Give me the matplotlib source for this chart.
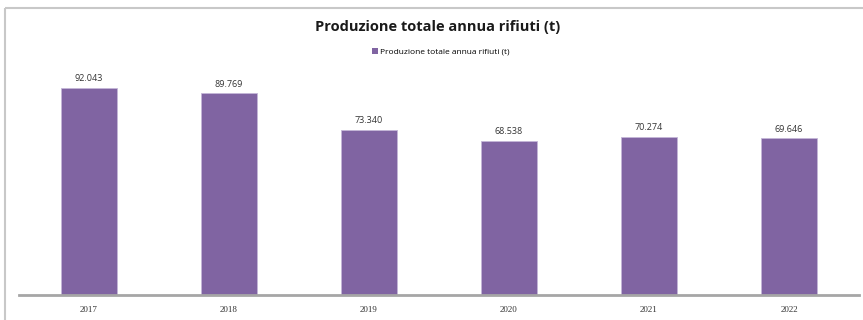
import matplotlib
matplotlib.use("Agg")
import matplotlib.pyplot as plt
from matplotlib.lines import Line2D
from matplotlib.patches import Patch

years = ["2017", "2018", "2019", "2020", "2021", "2022"]
values = [92.043, 89.769, 73.340, 68.538, 70.274, 69.646]
value_labels = ["92.043", "89.769", "73.340", "68.538", "70.274", "69.646"]
title = "Produzione totale annua rifiuti (t)"
series_name = "Produzione totale annua rifiuti (t)"

W, H = 863, 320
fig = plt.figure(figsize=(W / 100, H / 100), dpi=100)
fig.patch.set_facecolor("white")

# outer chart frame (top and left edges visible)
fig.add_artist(Line2D([5 / W, 1.0], [1 - 8 / H, 1 - 8 / H], transform=fig.transFigure,
                      color="#c8c8c8", lw=1.5, solid_capstyle="butt"))
fig.add_artist(Line2D([5 / W, 5 / W], [0, 1 - 8 / H], transform=fig.transFigure,
                      color="#c8c8c8", lw=1.5, solid_capstyle="butt"))

ax = fig.add_axes([19 / W, 25 / H, 840 / W, 225 / H])
x = list(range(len(years)))
bars = ax.bar(x, values, width=0.4, color="#8064A2", edgecolor="#c4b6d8", linewidth=0.6)
ax.set_xlim(-0.5, len(years) - 0.5)
ax.set_ylim(0, 100)
for xi, v, lab in zip(x, values, value_labels):
    ax.text(xi, v + 2.0, lab, ha="center", va="bottom", fontsize=6.5,
            family="Open Sans", color="#333333")

ax.set_xticks(x)
ax.set_xticklabels(years, family="Liberation Serif", fontsize=6.5, color="#333333")
ax.tick_params(axis="x", length=0, pad=8)
ax.set_yticks([])
for s in ["top", "right", "left"]:
    ax.spines[s].set_visible(False)
ax.spines["bottom"].set_color("#a6a6a6")
ax.spines["bottom"].set_linewidth(2)

fig.text(438 / W, 1 - 27 / H, title, ha="center", va="center", fontsize=10.5,
         fontweight="bold", family="Open Sans", color="#1a1a1a")
fig.legend(handles=[Patch(facecolor="#8064A2", label=series_name)],
           loc="center", bbox_to_anchor=(441 / W, 1 - 52 / H), frameon=False,
           prop={"family": "Open Sans", "size": 6}, handlelength=0.7, handleheight=0.7,
           handletextpad=0.3)

fig.savefig("out.png", dpi=100)
